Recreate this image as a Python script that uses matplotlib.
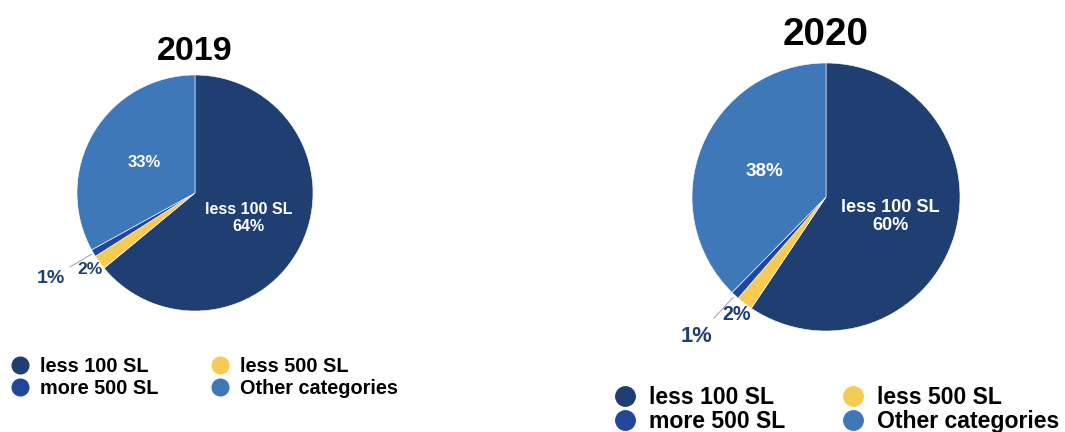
import matplotlib.pyplot as plt
import numpy as np
from matplotlib.lines import Line2D

plt.rcParams['font.family'] = ['Liberation Sans', 'DejaVu Sans']
plt.rcParams['font.weight'] = 'bold'

# data
categories = ['less 100 SL', 'less 500 SL', 'more 500 SL', 'Other categories']
values_2019 = [64, 2, 1, 33]
values_2020 = [60, 2, 1, 38]
colors = ['#1f3f73', '#f5cb53', '#22479a', '#3f78b8']
dark = '#1f3f73'

fig = plt.figure(figsize=(10.65, 4.32), dpi=100)
W, H = 1065, 432


def pie_axes(cx, cy, r):
    # axes in pixel units, limits +-1.5 data units
    half = 1.5 * r
    return fig.add_axes([(cx - half) / W, (H - cy - half) / H, 2 * half / W, 2 * half / H])


def draw_pie(ax, values, title, scale, title_y):
    wedges, _ = ax.pie(values, colors=colors, startangle=90, counterclock=False,
                       wedgeprops=dict(edgecolor='white', linewidth=0.4))
    ax.set_xlim(-1.5, 1.5)
    ax.set_ylim(-1.5, 1.5)
    ax.set_aspect('equal')
    ax.axis('off')
    mids = [np.deg2rad((w.theta1 + w.theta2) / 2) for w in wedges]

    a = mids[0]
    ax.text(0.5 * np.cos(a), 0.5 * np.sin(a), f'{categories[0]}\n{values[0]}%',
            ha='center', va='center', color='white', fontsize=11.5 * scale,
            fontweight='bold', linespacing=1.15)
    a = mids[3]
    ax.text(0.5 * np.cos(a), 0.5 * np.sin(a), f'{values[3]}%',
            ha='center', va='center', color='white', fontsize=12 * scale, fontweight='bold')
    a = mids[1]
    ax.text(1.1 * np.cos(a), 1.1 * np.sin(a), f'{values[1]}%',
            ha='center', va='center', color=dark, fontsize=12.5 * scale, fontweight='bold')
    a = mids[2]
    ax.plot([1.02 * np.cos(a), 1.23 * np.cos(a)], [1.02 * np.sin(a), 1.23 * np.sin(a)],
            color='#aaaaaa', lw=0.8)
    ax.text(1.42 * np.cos(a), 1.42 * np.sin(a), f'{values[2]}%',
            ha='center', va='center', color=dark, fontsize=14 * scale, fontweight='bold')
    ax.text(0, title_y, title, ha='center', va='center', fontsize=24.5 * scale,
            fontweight='bold', color='black')


ax1 = pie_axes(195, 193, 118)
draw_pie(ax1, values_2019, '2019', 1.0, 1.2)
ax2 = pie_axes(826, 197, 134)
draw_pie(ax2, values_2020, '2020', 1.135, 1.21)

order = [0, 2, 1, 3]


def add_legend(x, y, fs, ms, pad, spacing, colspace):
    handles = [Line2D([], [], marker='o', ls='', markersize=ms,
                      markerfacecolor=colors[i], markeredgecolor=colors[i]) for i in order]
    labels = [categories[i] for i in order]
    leg = fig.legend(handles, labels, loc='upper left', bbox_to_anchor=(x / W, 1 - y / H),
                     ncol=2, frameon=False, prop=dict(size=fs, weight='bold'),
                     handletextpad=pad, columnspacing=colspace, labelspacing=spacing,
                     borderaxespad=0, borderpad=0, handlelength=1.0)
    return leg


add_legend(10, 357, 14.3, 12, 0.5, 0.15, 2.6)
add_legend(613, 386, 16.6, 14, 0.55, 0.03, 2.43)

fig.savefig('out.png', dpi=100)
